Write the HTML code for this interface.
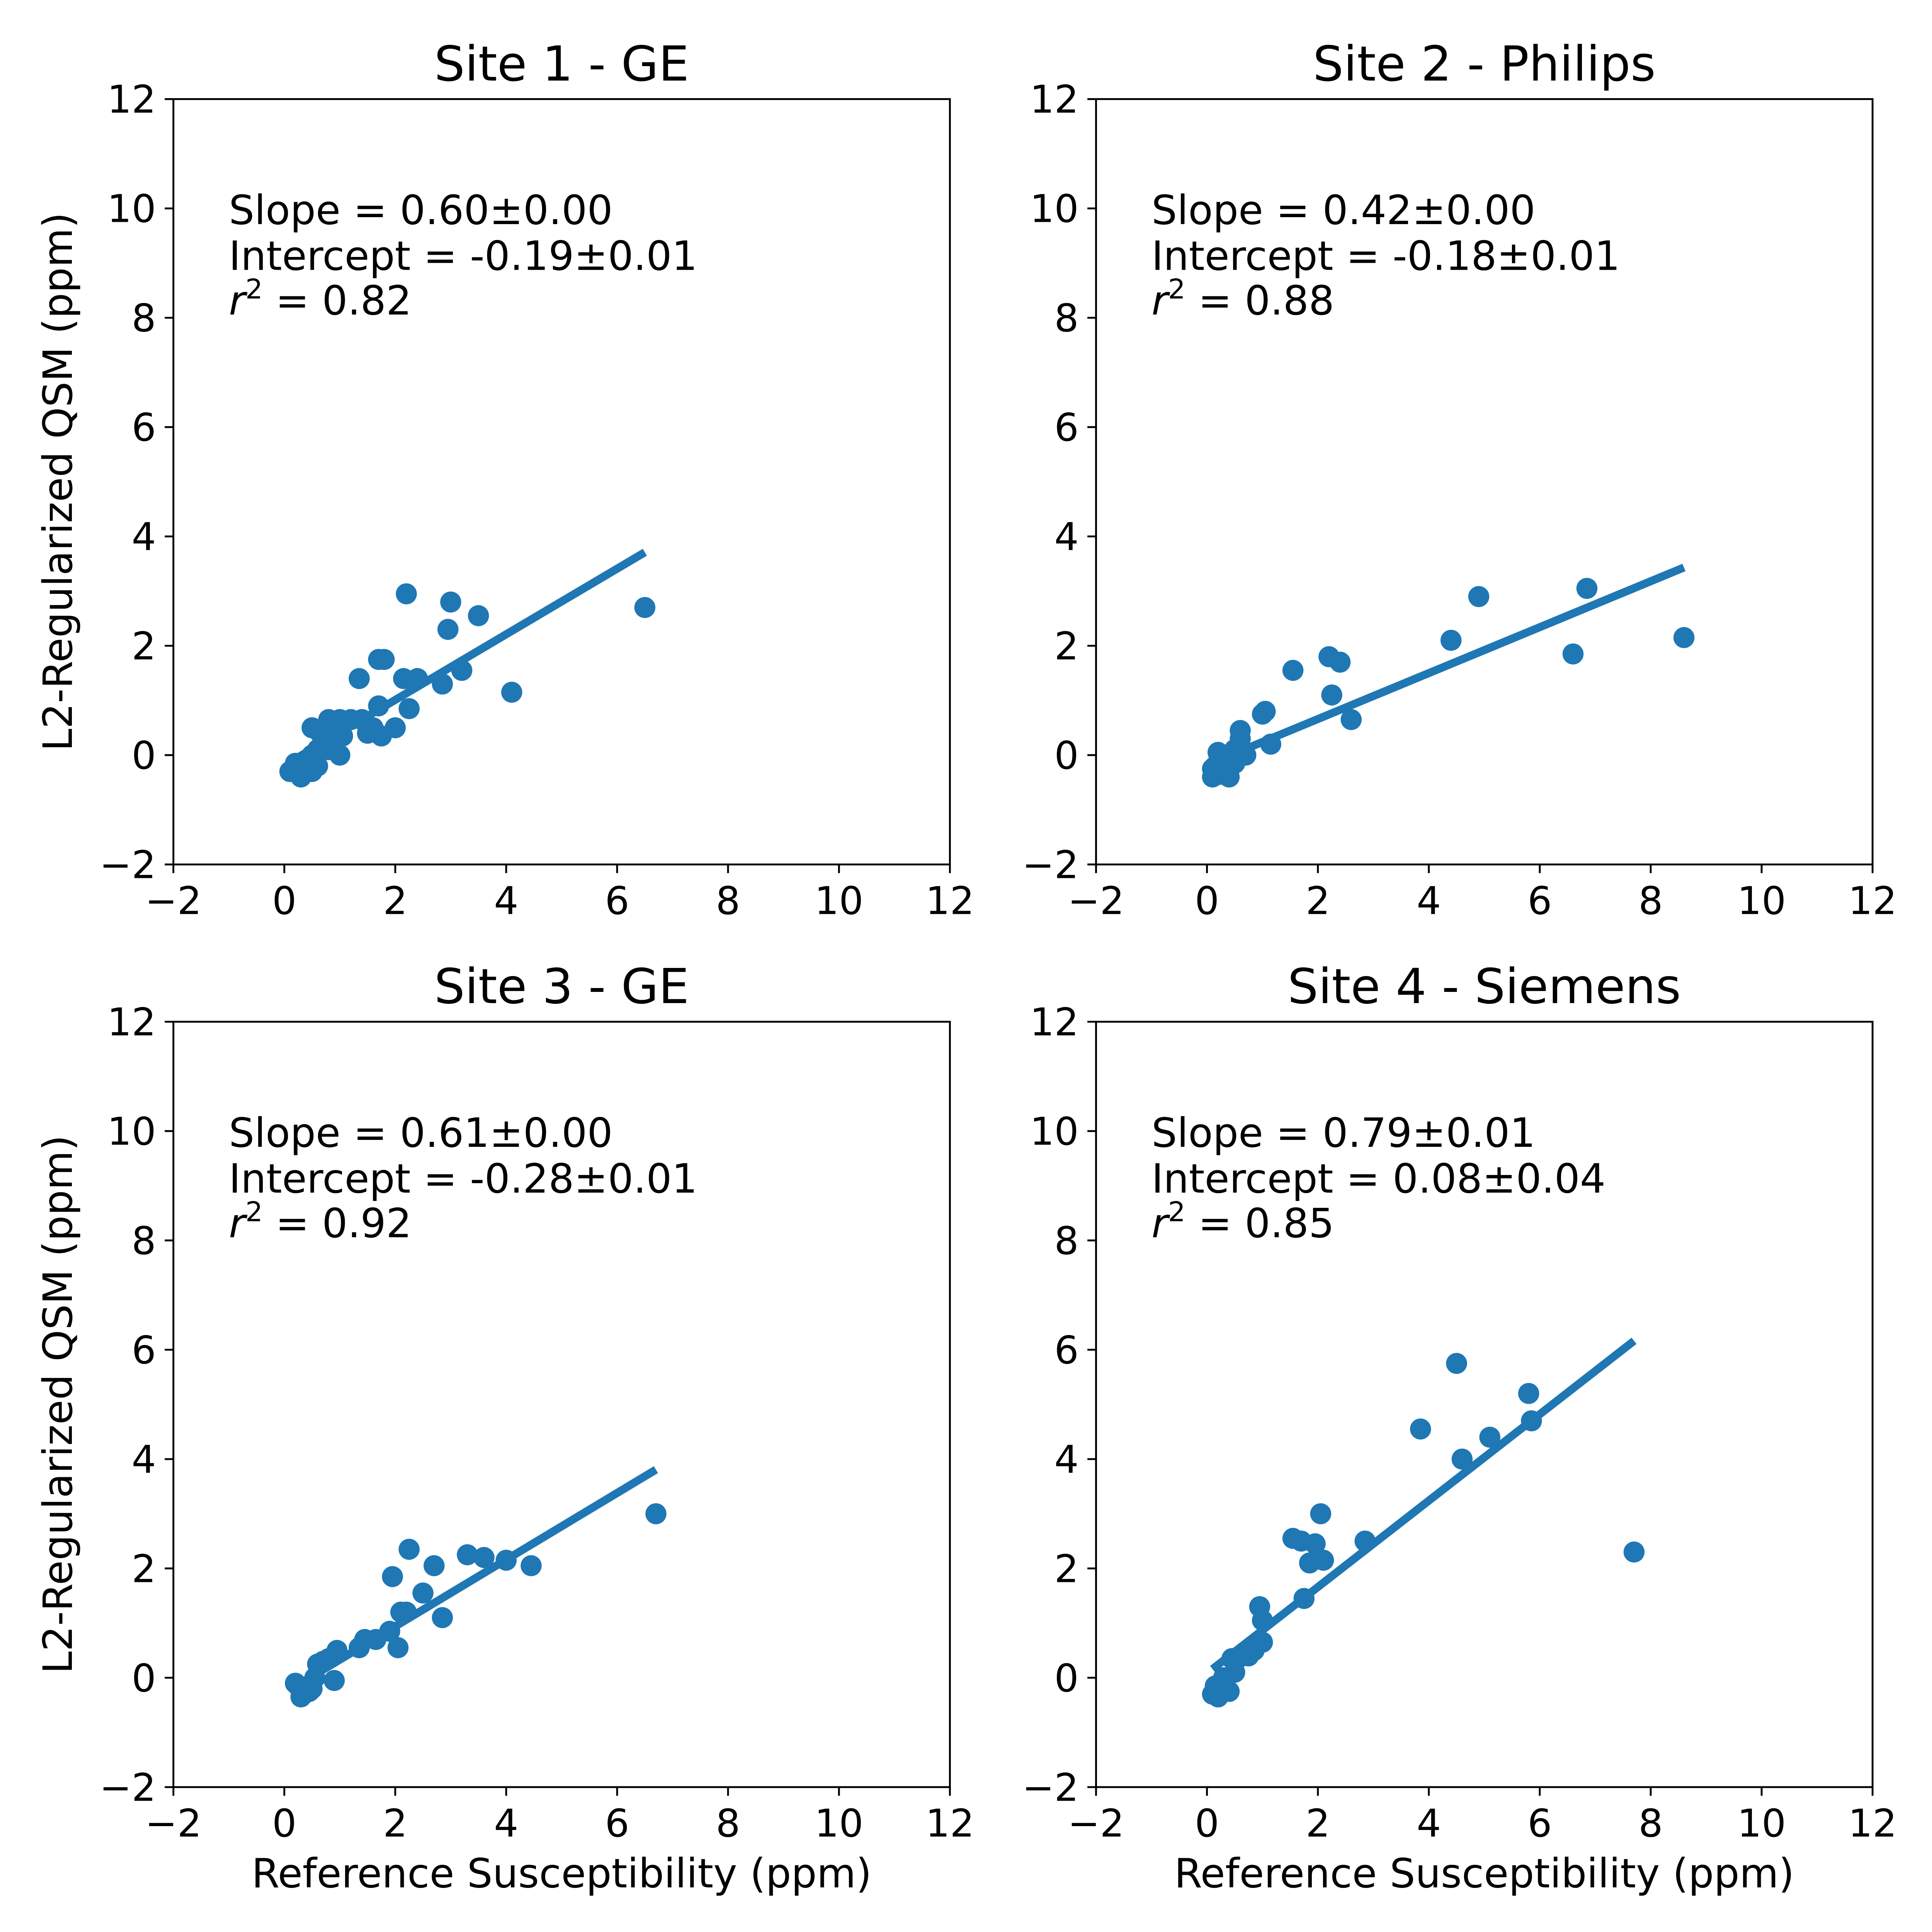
<!DOCTYPE html>
<html><head><meta charset="utf-8"><style>
html,body{margin:0;padding:0;background:#fff;overflow:hidden}
svg{display:block;width:100vw;height:100vh}
text{font-family:"DejaVu Sans","Liberation Sans",sans-serif;fill:#000}
</style></head><body>
<svg id="fig" xmlns="http://www.w3.org/2000/svg" viewBox="0 0 1560 1560" preserveAspectRatio="none"></svg>
<script>
const titles = ["Site 1 - GE","Site 2 - Philips","Site 3 - GE","Site 4 - Siemens"];
const slopes = [0.60,0.42,0.61,0.79];
const intercepts = [-0.19,-0.18,-0.28,0.08];
const slopeText = ["0.60±0.00","0.42±0.00","0.61±0.00","0.79±0.01"];
const interceptText = ["-0.19±0.01","-0.18±0.01","-0.28±0.01","0.08±0.04"];
const r2Text = ["0.82","0.88","0.92","0.85"];
const ticks = [-2,0,2,4,6,8,10,12];
const site1X = [6.5,4.1,3.5,3.2,3.0,2.95,2.85,2.2,2.4,2.15,2.25,2.0,1.8,1.7,1.7,1.75,1.6,1.5,1.35,1.4,1.2,1.0,1.05,0.9,0.8,0.75,0.7,0.8,1.0,0.6,0.5,0.5,0.45,0.4,0.35,0.3,0.25,0.2,0.1,0.6,0.5,0.85,0.65];
const site1Y = [2.7,1.15,2.55,1.55,2.8,2.3,1.3,2.95,1.4,1.4,0.85,0.5,1.75,1.75,0.9,0.35,0.5,0.4,1.4,0.65,0.65,0.65,0.35,0.5,0.65,0.35,0.2,0.1,0.0,0.1,0.5,0.0,-0.15,-0.1,-0.3,-0.4,-0.2,-0.15,-0.3,-0.2,-0.3,0.3,0.4];
const site2X = [8.6,6.85,6.6,4.9,4.4,2.6,2.4,2.2,2.25,1.55,1.15,1.05,1.0,0.6,0.6,0.7,0.5,0.45,0.4,0.35,0.4,0.25,0.2,0.15,0.1,0.1,0.3,0.5];
const site2Y = [2.15,3.05,1.85,2.9,2.1,0.65,1.7,1.8,1.1,1.55,0.2,0.8,0.75,0.45,0.3,0.0,0.1,0.0,-0.1,-0.2,-0.4,-0.35,0.05,-0.2,-0.4,-0.25,-0.05,-0.15];
const site3X = [6.7,4.45,4.0,3.6,3.3,2.85,2.7,2.5,2.25,2.2,2.1,2.05,1.95,1.9,1.65,1.45,1.35,0.95,0.8,0.9,0.7,0.6,0.55,0.5,0.45,0.35,0.3,0.25,0.2];
const site3Y = [3.0,2.05,2.15,2.2,2.25,1.1,2.05,1.55,2.35,1.2,1.2,0.55,1.85,0.85,0.7,0.7,0.55,0.5,0.35,-0.05,0.3,0.25,0.0,-0.2,-0.25,-0.3,-0.35,-0.15,-0.1];
const site4X = [7.7,5.85,5.8,5.1,4.6,4.5,3.85,2.85,2.05,2.1,1.95,1.85,1.7,1.55,1.75,1.0,0.95,1.0,0.85,0.75,0.6,0.55,0.45,0.5,0.4,0.2,0.1,0.15,0.3];
const site4Y = [2.3,4.7,5.2,4.4,4.0,5.75,4.55,2.5,3.0,2.15,2.45,2.1,2.5,2.55,1.45,1.05,1.3,0.65,0.5,0.4,0.4,0.35,0.35,0.1,-0.25,-0.35,-0.3,-0.15,0.0];
const xs = [site1X,site2X,site3X,site4X];
const ys = [site1Y,site2Y,site3Y,site4Y];

const NS="http://www.w3.org/2000/svg";
const svg=document.getElementById('fig');
function mk(tag,attrs,parent){const e=document.createElementNS(NS,tag);for(const k in attrs)e.setAttribute(k,attrs[k]);(parent||svg).appendChild(e);return e;}
const W=627,H=618,C="#1f77b4";
const origins=[[140,80],[885,80],[140,825],[885,825]];
for(let p=0;p<4;p++){
  const [x0,y0]=origins[p];
  const g=mk('g',{});
  
  
  const sx=v=>x0+(v+2)/14*W, sy=v=>y0+H-(v+2)/14*H;
  const frame=mk('rect',{x:x0,y:y0,width:W,height:H,fill:'none',stroke:'#000','stroke-width':1.5},g);
  
  
  ticks.forEach(t=>{
    mk('line',{x1:sx(t),x2:sx(t),y1:y0+H,y2:y0+H+7,stroke:'#000','stroke-width':1.5},g);
    const xl=mk('text',{x:sx(t),y:y0+H+40,'text-anchor':'middle','font-size':31},g);
    xl.textContent=t<0?'−'+(-t):t;
    
    
    mk('line',{x1:x0-7,x2:x0,y1:sy(t),y2:sy(t),stroke:'#000','stroke-width':1.5},g);
    const yl=mk('text',{x:x0-14,y:sy(t)+11,'text-anchor':'end','font-size':31},g);
    yl.textContent=t<0?'−'+(-t):t;
    
    
  });
  const X=xs[p],Y=ys[p];
  X.forEach((v,i)=>{
    const c=mk('circle',{cx:sx(v),cy:sy(Y[i]),r:8.5,fill:C},g);
    
    
  });
  const xmin=Math.min(...X),xmax=Math.max(...X);
  const ln=mk('line',{x1:sx(xmin),y1:sy(slopes[p]*xmin+intercepts[p]),x2:sx(xmax),y2:sy(slopes[p]*xmax+intercepts[p]),stroke:C,'stroke-width':6.5},g);
  
  
  const tt=mk('text',{x:x0+W/2,y:y0-15,'text-anchor':'middle','font-size':39},g);
  tt.textContent=titles[p];
  
  
  const ax=sx(-1);
  const a1=mk('text',{x:ax,y:y0+101,'font-size':32.5},g);a1.textContent='Slope = '+slopeText[p];
  
  
  const a2=mk('text',{x:ax,y:y0+138,'font-size':32.5},g);a2.textContent='Intercept = '+interceptText[p];
  
  
  const a3=mk('text',{x:ax,y:y0+174,'font-size':32.5},g);
  a3.innerHTML='<tspan font-style="italic">r</tspan><tspan dy="-13" font-size="22">2</tspan><tspan dy="13"> = '+r2Text[p]+'</tspan>';
  
  
  if(p%2===0){
    const yt=mk('text',{x:0,y:0,'text-anchor':'middle','font-size':32.5,transform:`translate(58,${y0+H/2}) rotate(-90)`},g);
    yt.textContent='L2-Regularized QSM (ppm)';
    
    
  }
  if(p>=2){
    const xt=mk('text',{x:x0+W/2,y:y0+H+81,'text-anchor':'middle','font-size':32.5},g);
    xt.textContent='Reference Susceptibility (ppm)';
    
    
  }
}
</script>
</body></html>
